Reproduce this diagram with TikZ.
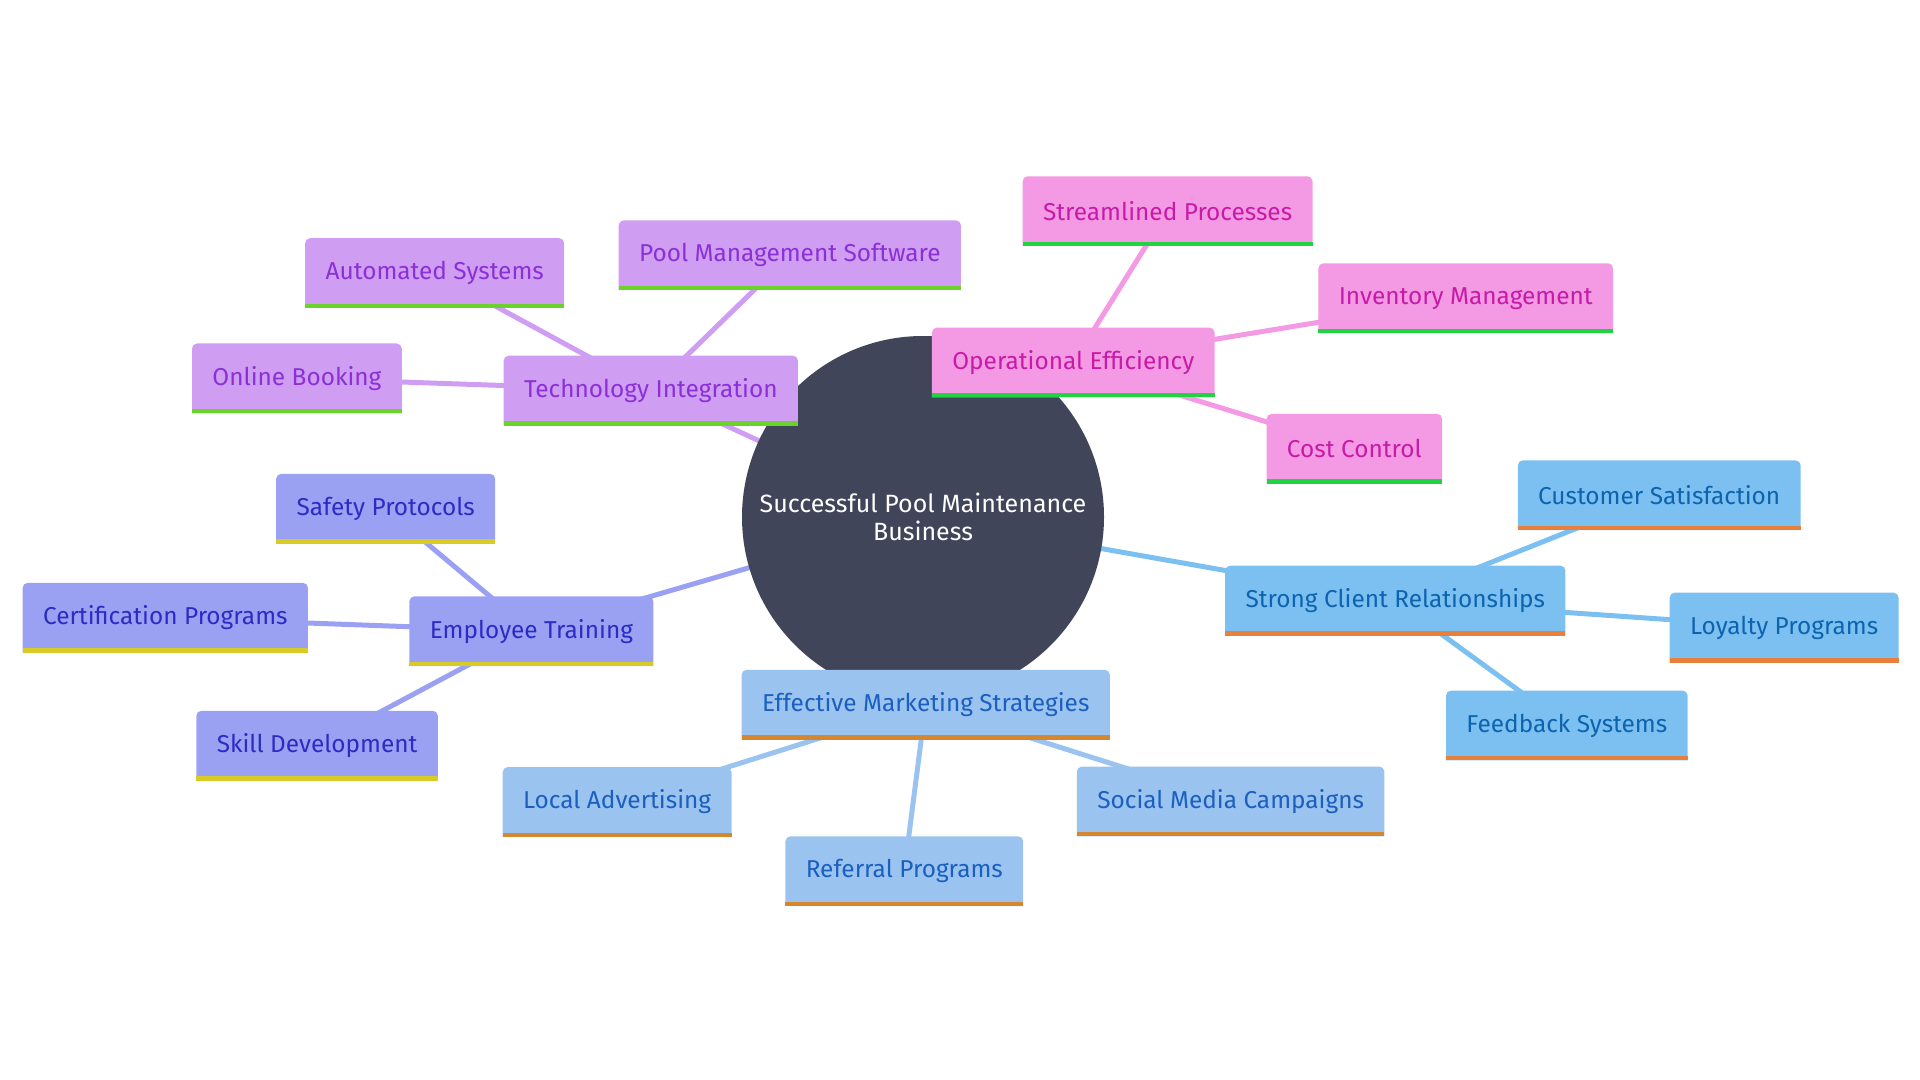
\documentclass[tikz,border=0pt]{standalone}
\usepackage{fontspec}
\setmainfont{Fira Sans}
\usetikzlibrary{ calc, positioning }

\definecolor{hubfill}{HTML}{414559}
\definecolor{techfill}{HTML}{CF9DF2}
\definecolor{techtext}{HTML}{8A30D6}
\definecolor{techbar}{HTML}{6BD12B}
\definecolor{operfill}{HTML}{F499E3}
\definecolor{opertext}{HTML}{C71BA7}
\definecolor{operbar}{HTML}{21D342}
\definecolor{clientfill}{HTML}{7CC0F2}
\definecolor{clienttext}{HTML}{0D63AE}
\definecolor{clientbar}{HTML}{E7803A}
\definecolor{marketfill}{HTML}{9BC3F0}
\definecolor{markettext}{HTML}{1B5FBF}
\definecolor{marketbar}{HTML}{D58730}
\definecolor{stafffill}{HTML}{9BA1F2}
\definecolor{stafftext}{HTML}{2B2CC4}
\definecolor{staffbar}{HTML}{D9CB25}

\pgfdeclarelayer{edges}
\pgfdeclarelayer{hubs}
\pgfdeclarelayer{boxes}
\pgfsetlayers{edges,hubs,boxes,main}

\tikzset{
every node/.style={inner sep=1pt},
box/.style={inner xsep=10pt, minimum height=34.5pt, font=\fontsize{12.2}{14}\selectfont}, % every topic box
hub/.style={circle, fill=hubfill, text=white, minimum size=181pt, align=center,
  font=\fontsize{12.5}{14}\selectfont},
link/.style={line width=2.5pt},
}

% topic box: name, position, text, branch
\newcommand{\topic}[4]{%
  \node[box, text=#4text] (#1) at (#2) {#3};
  \begin{pgfonlayer}{boxes}
    \fill[#4fill] (#1.south west) [rounded corners=2.5pt] -- (#1.north west)
      -- (#1.north east) [sharp corners] -- (#1.south east) -- cycle;
    \fill[#4bar] (#1.south west) rectangle ([yshift=2.2pt]#1.south east);
  \end{pgfonlayer}
}

\begin{document}
\begin{tikzpicture}[x=0.5pt, y=-0.5pt]
  \useasboundingbox (0,0) rectangle (1920,1080);

  % Centre -------------------------------------------
  \begin{pgfonlayer}{hubs}
    \node[hub] (hub) at (923,517) {Successful Pool Maintenance\\Business};
  \end{pgfonlayer}

  % Technology Integration ---------------------------
  \topic{tech}{650.8,390.6}{Technology Integration}{tech}
  \topic{auto}{434.7,273.1}{Automated Systems}{tech}
  \topic{soft}{789.8,255.3}{Pool Management Software}{tech}
  \topic{book}{296.9,378.4}{Online Booking}{tech}

  % Operational Efficiency ---------------------------
  \topic{oper}{1073.3,362.5}{Operational Efficiency}{oper}
  \topic{stream}{1167.6,211.2}{Streamlined Processes}{oper}
  \topic{stock}{1465.7,298.2}{Inventory Management}{oper}
  \topic{cost}{1354.3,448.8}{Cost Control}{oper}

  % Strong Client Relationships ----------------------
  \topic{client}{1395.3,600.6}{Strong Client Relationships}{client}
  \topic{satis}{1659.2,495.3}{Customer Satisfaction}{client}
  \topic{loyal}{1784.1,627.6}{Loyalty Programs}{client}
  \topic{feed}{1566.8,725.5}{Feedback Systems}{client}

  % Effective Marketing Strategies -------------------
  \topic{market}{925.7,704.7}{Effective Marketing Strategies}{market}
  \topic{local}{617.1,802.0}{Local Advertising}{market}
  \topic{refer}{904.3,871.2}{Referral Programs}{market}
  \topic{social}{1230.6,801.4}{Social Media Campaigns}{market}

  % Employee Training --------------------------------
  \topic{staff}{531.4,631.2}{Employee Training}{staff}
  \topic{safety}{385.7,508.8}{Safety Protocols}{staff}
  \topic{cert}{165.3,617.8}{Certification Programs}{staff}
  \topic{skill}{317.1,745.7}{Skill Development}{staff}

  \begin{pgfonlayer}{edges}
  \path[link, techfill]
  (hub.center) edge (tech.center)
  (tech.center) edge (auto.center)
  (tech.center) edge (soft.center)
  (tech.center) edge (book.center);
  \path[link, operfill]
  (hub.center) edge (oper.center)
  (oper.center) edge (stream.center)
  (oper.center) edge (stock.center)
  (oper.center) edge (cost.center);
  \path[link, clientfill]
  (hub.center) edge (client.center)
  (client.center) edge (satis.center)
  (client.center) edge (loyal.center)
  (client.center) edge (feed.center);
  \path[link, marketfill]
  (hub.center) edge (market.center)
  (market.center) edge (local.center)
  (market.center) edge (refer.center)
  (market.center) edge (social.center);
  \path[link, stafffill]
  (hub.center) edge (staff.center)
  (staff.center) edge (safety.center)
  (staff.center) edge (cert.center)
  (staff.center) edge (skill.center);
  \end{pgfonlayer}
\end{tikzpicture}
\end{document}
